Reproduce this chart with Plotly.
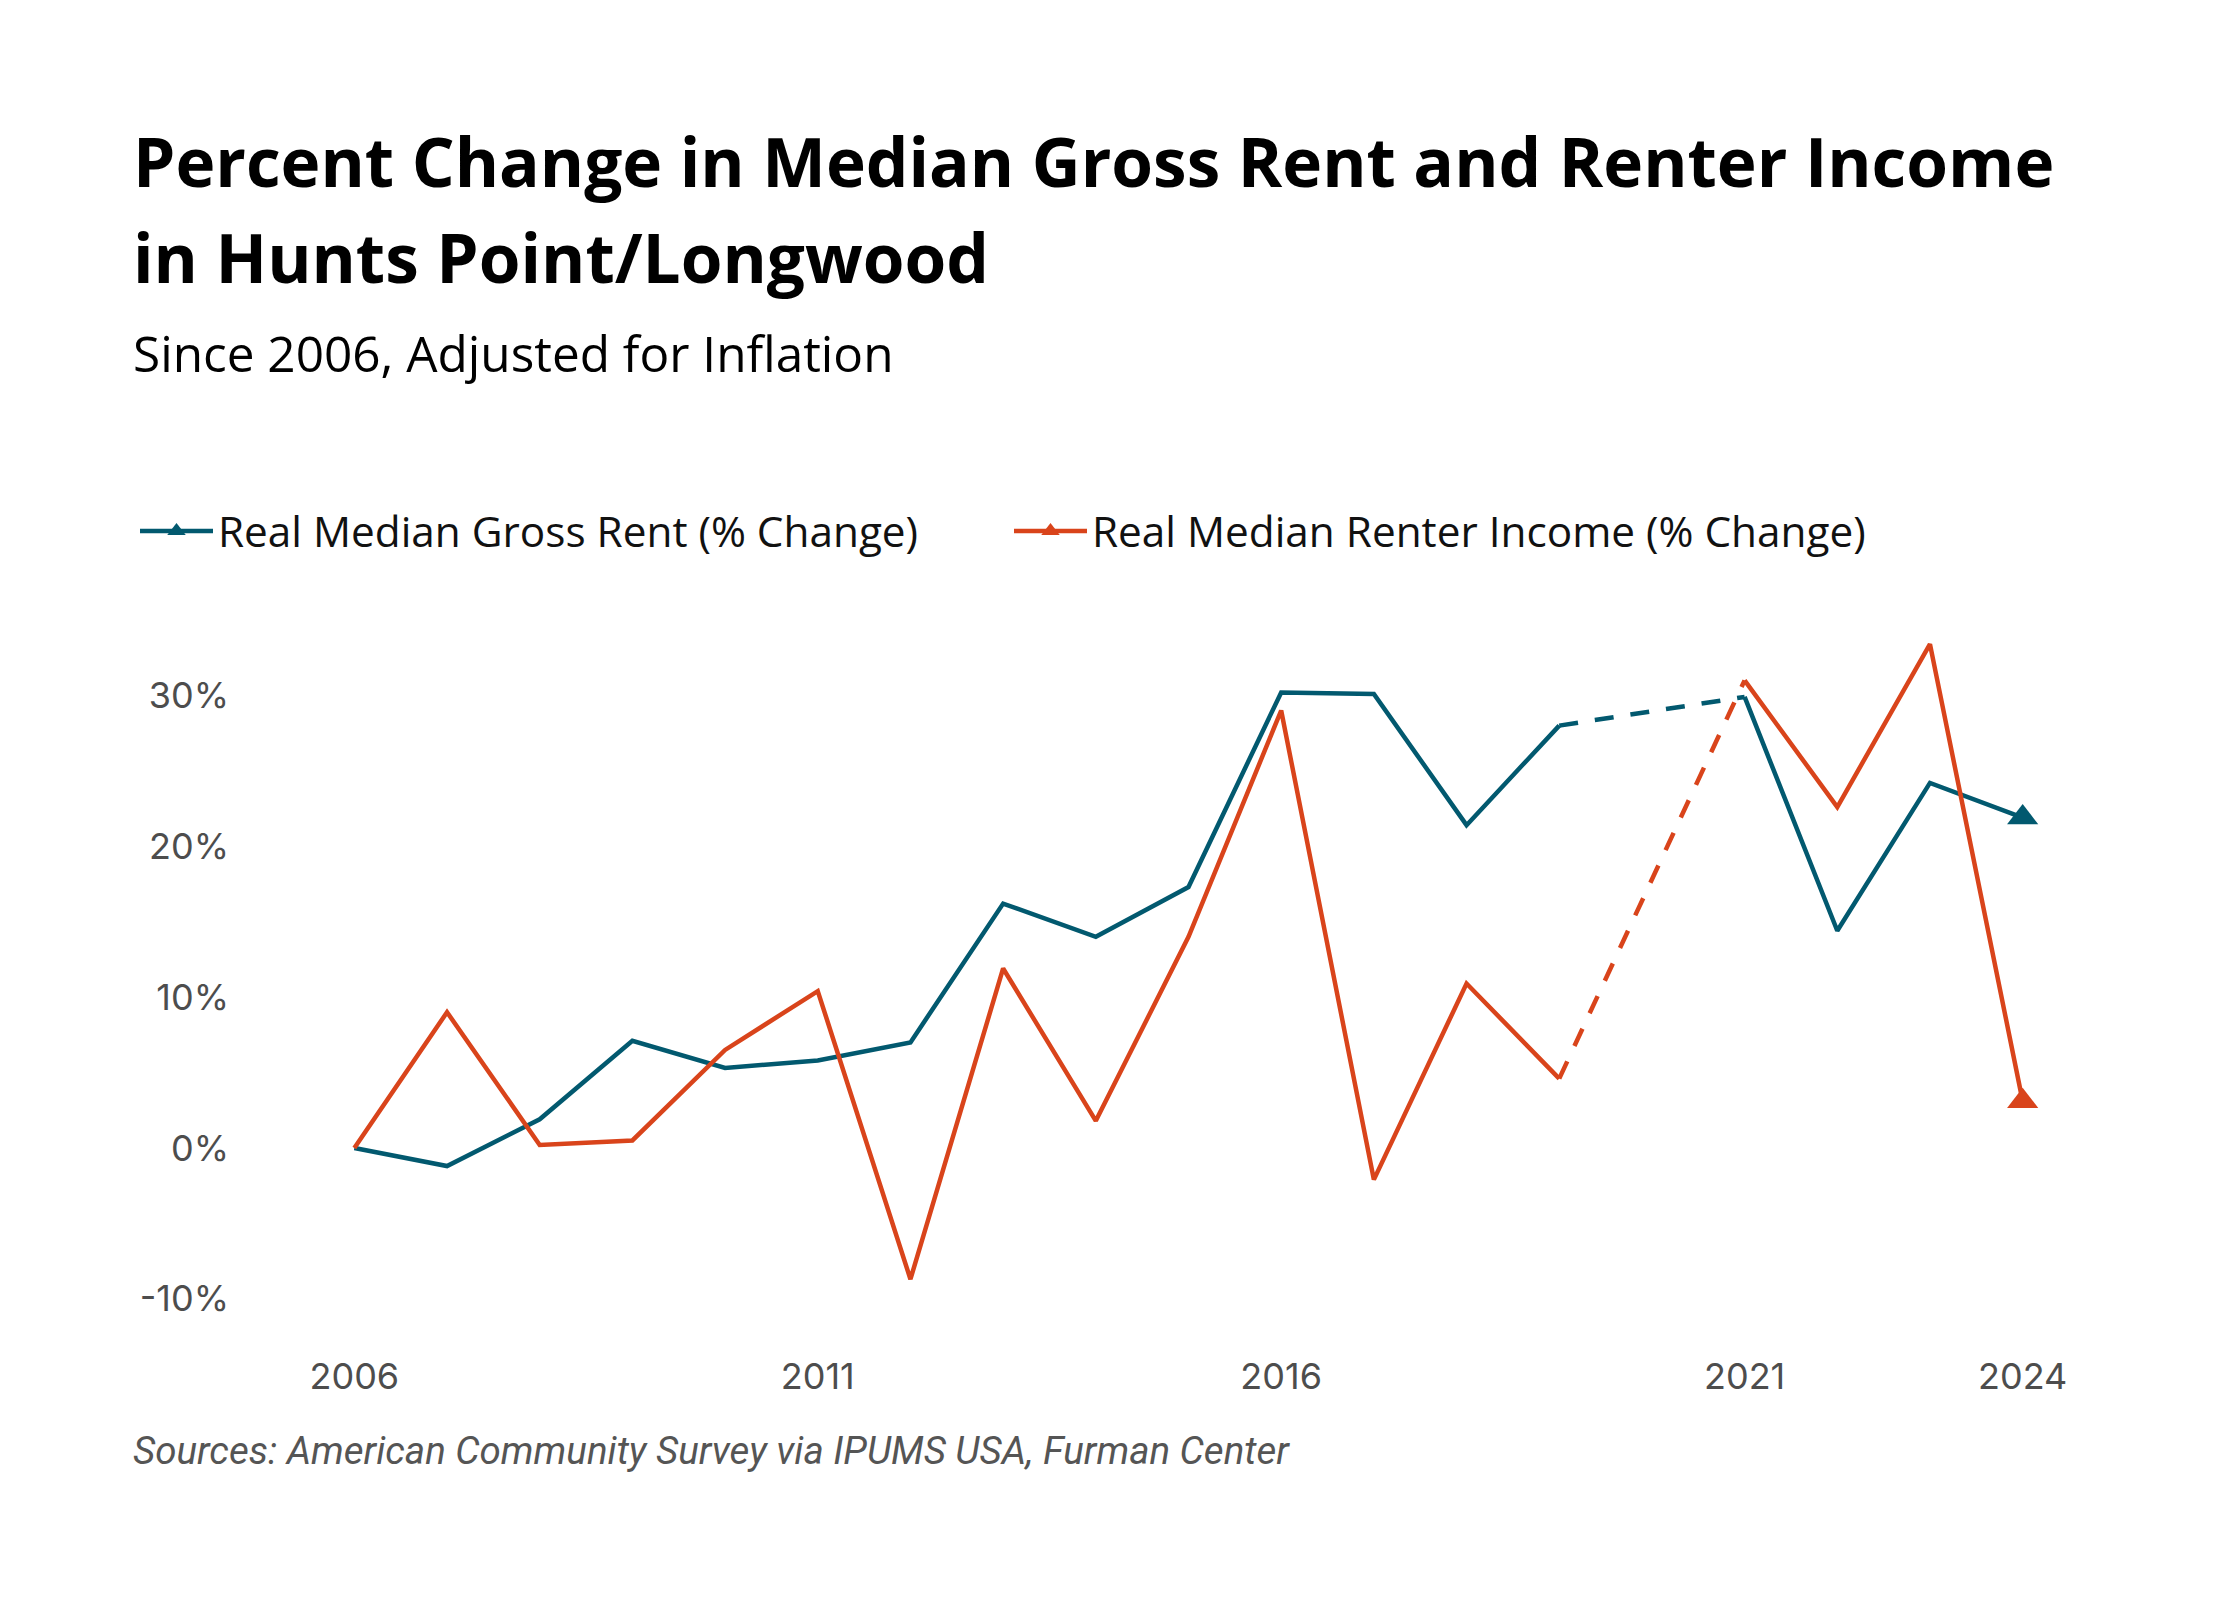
import plotly.graph_objects as go

# data (2020 has no estimate, bridged with a dashed line)
years = [2006, 2007, 2008, 2009, 2010, 2011, 2012, 2013, 2014, 2015,
         2016, 2017, 2018, 2019, 2021, 2022, 2023, 2024]
rent_pct = [0.0, -1.2, 1.9, 7.1, 5.3, 5.8, 7.0, 16.2, 14.0, 17.3,
            30.2, 30.1, 21.4, 28.0, 29.9, 14.4, 24.2, 21.9]
income_pct = [0.0, 9.0, 0.2, 0.5, 6.5, 10.4, -8.7, 11.9, 1.8, 14.0,
              29.0, -2.1, 10.9, 4.6, 31.0, 22.6, 33.4, 3.1]
x_ticks = [2006, 2011, 2016, 2021, 2024]
y_ticks = [-10, 0, 10, 20, 30]
y_labels = [f"{v}%" for v in y_ticks]

RENT = "#02596f"
INCOME = "#d9441b"
gap = years.index(2021)

# plot area in pixels (figure coords)
W, H = 2240, 1600
L, R, T, B = 300, 2061, 612, 1321


def px(x):
    return (x - L) / (R - L)


def py(y):
    return (B - y) / (B - T)


fig = go.Figure()

series = [("Real Median Gross Rent (% Change)", rent_pct, RENT),
          ("Real Median Renter Income (% Change)", income_pct, INCOME)]

for name, vals, col in series:
    # before the gap
    fig.add_trace(go.Scatter(x=years[:gap], y=vals[:gap], mode="lines",
                             line=dict(color=col, width=4.5),
                             showlegend=False, hoverinfo="skip"))
    # dashed bridge 2019 -> 2021
    fig.add_trace(go.Scatter(x=years[gap - 1:gap + 1], y=vals[gap - 1:gap + 1],
                             mode="lines",
                             line=dict(color=col, width=4.5, dash="19px,17px"),
                             showlegend=False, hoverinfo="skip"))
    # after the gap
    fig.add_trace(go.Scatter(x=years[gap:], y=vals[gap:], mode="lines",
                             line=dict(color=col, width=4.5),
                             showlegend=False, hoverinfo="skip"))
    # end marker
    fig.add_trace(go.Scatter(x=years[-1:], y=vals[-1:], mode="markers",
                             marker=dict(symbol="triangle-up", size=27, color=col),
                             showlegend=False, cliponaxis=False))
    # legend entry
    fig.add_trace(go.Scatter(x=[None], y=[None], mode="lines+markers", name=name,
                             line=dict(color=col, width=4.5),
                             marker=dict(symbol="triangle-up", size=16, color=col)))

tick_font = dict(family="Inter", size=36, color="#4d4d4d")
fig.update_xaxes(range=[2005.5, 2024.5], tickvals=x_ticks, showgrid=False,
                 zeroline=False, showline=False, ticks="",
                 tickfont=tick_font, ticklabelstandoff=23)
fig.update_yaxes(range=[-12, 35], tickvals=y_ticks, ticktext=y_labels,
                 showgrid=False, zeroline=False, showline=False, ticks="",
                 tickfont=tick_font, ticklabelstandoff=78)

ann = [
    ("<b>Percent Change in Median Gross Rent and Renter Income</b>", 153, 67.5, "Open Sans", "#000000"),
    ("<b>in Hunts Point/Longwood</b>", 249, 67.5, "Open Sans", "#000000"),
    ("Since 2006, Adjusted for Inflation", 345, 49.5, "Open Sans", "#000000"),
    ("<i>Sources: American Community Survey via IPUMS USA, Furman Center</i>", 1442, 38.5, "Roboto", "#555555"),
]
for text, y, size, fam, col in ann:
    fig.add_annotation(text=text, xref="paper", yref="paper", x=px(123), y=py(y),
                       xanchor="left", yanchor="middle", showarrow=False,
                       font=dict(family=fam, size=size, color=col))

fig.update_layout(
    width=W, height=H,
    margin=dict(l=L, r=W - R, t=T, b=H - B),
    paper_bgcolor="white", plot_bgcolor="white",
    legend=dict(orientation="h", x=px(127), y=py(523), xanchor="left", yanchor="middle",
                font=dict(family="Open Sans", size=42.3, color="#111111"),
                entrywidth=786, entrywidthmode="pixels", itemwidth=73,
                bgcolor="rgba(0,0,0,0)"),
)

fig.write_html("out.html")
